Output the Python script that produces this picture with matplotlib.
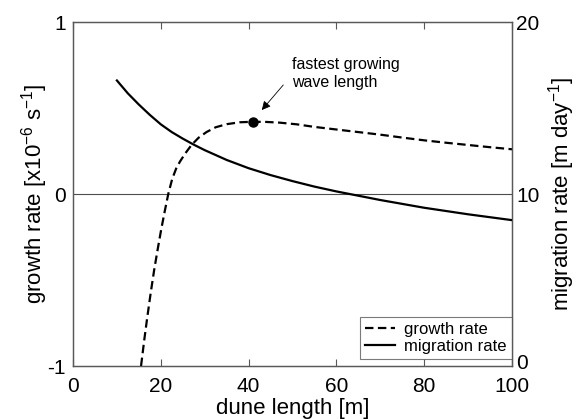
import matplotlib
matplotlib.use("Agg")
import matplotlib.pyplot as plt
import matplotlib.transforms as mtransforms

plt.rcParams['font.family'] = ['Liberation Sans', 'DejaVu Sans']
plt.rcParams['mathtext.fontset'] = 'custom'
plt.rcParams['mathtext.rm'] = 'Liberation Sans'

# growth rate of the bed perturbation [x10^-6 s^-1] vs dune length [m]
growth_length = [15.5, 16.2, 16.9, 17.7, 18.5, 19.3, 20.1, 20.9, 21.7, 22.6,
                 23.5, 24.4, 25.6, 27.0, 28.6, 30.4, 32.5, 35.0, 38.0, 41.0,
                 44.0, 47.0, 51.0, 55.0, 60.0, 65.0, 70.0, 75.0, 80.0, 85.0,
                 90.0, 95.0, 100.0]
growth_rate = [-1.00, -0.855, -0.72, -0.575, -0.44, -0.32, -0.205, -0.10, 0.00, 0.088,
               0.148, 0.19, 0.237, 0.285, 0.327, 0.36, 0.388, 0.406, 0.417, 0.42,
               0.419, 0.415, 0.405, 0.39, 0.375, 0.36, 0.345, 0.328, 0.312, 0.298,
               0.285, 0.272, 0.26]

# migration rate [m day^-1] vs dune length [m]
migration_length = [10.0, 12.5, 15.0, 17.5, 20.0, 22.5, 25.0, 27.5, 30.0, 35.0,
                    40.0, 45.0, 50.0, 55.0, 60.0, 70.0, 80.0, 90.0, 100.0]
migration_rate = [16.6, 15.85, 15.2, 14.6, 14.05, 13.6, 13.22, 12.87, 12.55, 11.98,
                  11.5, 11.1, 10.75, 10.43, 10.15, 9.65, 9.2, 8.82, 8.48]

# fastest growing wave length (maximum of the growth rate)
peak_length = 41.0
peak_rate = 0.42

x_ticks = [0, 20, 40, 60, 80, 100]
left_ticks = [-1, 0, 1]
right_ticks = [0, 10, 20]

fig = plt.figure(figsize=(5.83, 4.19), dpi=100)
ax = fig.add_axes([73 / 583, 1 - 366 / 419, (512 - 73) / 583, (366 - 22) / 419])
ax2 = ax.twinx()

edge = '0.35'
for a in (ax, ax2):
    for s in a.spines.values():
        s.set_color(edge)
        s.set_linewidth(0.9)

ax.axhline(0, color='0.3', lw=0.8, zorder=1)

l1, = ax.plot(growth_length, growth_rate, color='black', lw=1.6,
              linestyle=(0, (3.8, 2.0)), label='growth rate', zorder=3)
ax.plot([peak_length], [peak_rate], 'o', color='black', ms=6.5, zorder=4)
l2, = ax2.plot(migration_length, migration_rate, color='black', lw=1.6,
               label='migration rate', zorder=3)

ax.set_xlim(0, 100)
ax.set_ylim(-1, 1)
ax2.set_ylim(0, 20)
ax.set_xticks(x_ticks)
ax.set_yticks(left_ticks)
ax2.set_yticks(right_ticks)
ax.set_yticklabels(['-1', '0', '1'])

ax.tick_params(axis='x', direction='in', length=5, width=0.8, color=edge,
               top=True, labelsize=15, pad=8)
ax.tick_params(axis='y', length=0, labelsize=15, pad=5)
ax2.tick_params(axis='y', length=0, labelsize=15, pad=3)

# lift the lowest right-hand label a little so it sits clear of "100"
lift = mtransforms.ScaledTranslation(0, 3 / 72, fig.dpi_scale_trans)
low_label = ax2.get_yticklabels()[0]
low_label.set_transform(low_label.get_transform() + lift)

ax.set_xlabel('dune length [m]', fontsize=16, labelpad=1.5)
ax.set_ylabel(r'growth rate [x10$^{-6}$ s$^{-1}$]', fontsize=16, labelpad=-2)
ax2.set_ylabel(r'migration rate [m day$^{-1}$]', fontsize=16, labelpad=5)

ax.text(50.0, 0.70, 'fastest growing\nwave length', fontsize=11.5,
        ha='left', va='center', linespacing=1.3)
ax.annotate('', xy=(43.0, 0.488), xytext=(47.9, 0.634),
            arrowprops=dict(arrowstyle='-|>', color='black', lw=0.6,
                            mutation_scale=13, shrinkA=0, shrinkB=0))

leg = ax.legend(handles=[l1, l2], loc='lower right',
                bbox_to_anchor=(1.0, 7 / 344), borderaxespad=0,
                fontsize=12, frameon=True, fancybox=False,
                handlelength=1.8, handletextpad=0.55, borderpad=0.3,
                labelspacing=0.15)
leg.get_frame().set_edgecolor(edge)
leg.get_frame().set_linewidth(0.8)
leg.set_zorder(5)

fig.savefig('out.png', dpi=100)
